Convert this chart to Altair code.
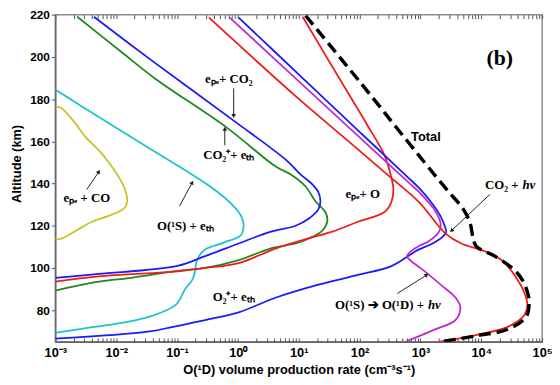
import math
import altair as alt
import pandas as pd

# ---------------- curve data (x: O(1D) production rate cm^-3 s^-1, y: altitude km) -------------
epeCO_x = [0.001, 0.00125, 0.00203, 0.00318, 0.00516, 0.00748, 0.0109, 0.0136, 0.0152, 0.0147,
           0.0131, 0.0075, 0.004, 0.0022, 0.0013, 0.001]
epeCO_y = [176.4, 175.8, 169.3, 161.9, 155.8, 150.2, 143.3, 138.1, 132.6, 129.8,
           127.9, 124.7, 121.9, 117.7, 114.0, 113.5]

o1s_x = [0.001, 0.0052, 0.0333, 0.102, 0.178, 0.376, 0.79, 1.15, 1.24, 1.12, 0.55, 0.29,
         0.23, 0.205, 0.2, 0.178, 0.137, 0.095, 0.0333, 0.0097, 0.0027, 0.001]
o1s_y = [184.5, 171.5, 157.1, 148.6, 144.2, 138.0, 130.2, 124.2, 120.0, 115.5, 111.8, 108.8,
         105.6, 102.0, 98.8, 94.4, 90.2, 82.5, 76.7, 73.5, 71.2, 69.2]

co2p_x = [0.00227, 0.0122, 0.0433, 0.658, 4.25, 7.4, 13.0, 18.8, 27.4, 29.5, 24.5, 14.5, 8.9, 3.5,
          1.03, 0.29, 0.102, 0.0177, 0.0052, 0.001]
co2p_y = [219.1, 202.3, 189.8, 166.5, 147.9, 144.3, 138.6, 131.6, 126.5, 122.3, 117.7, 113.9, 111.6,
          109.3, 103.7, 100.0, 98.6, 95.3, 93.5, 89.3]

epeco2_x = [0.0043, 0.0372, 0.853, 6.17, 10.8, 16.9, 21.1, 22.7, 21.1, 14.5, 8.9, 3.5, 1.03,
            0.29, 0.102, 0.0052, 0.001]
epeco2_y = [219.0, 198.6, 169.8, 151.2, 144.2, 139.5, 135.8, 131.6, 127.9, 123.3, 120.0, 117.2,
            111.6, 105.6, 101.0, 97.2, 95.3]

epeO_x = [11.6, 44.5, 136, 256, 333, 359, 333, 256, 94, 35.6, 14.5, 4.25, 1.03, 0.29, 0.102, 0.0052, 0.001]
epeO_y = [219.0, 190.7, 167.4, 153.5, 142.8, 137.2, 131.2, 126.5, 121.9, 117.2, 114.0, 109.3, 102.3,
          100.0, 98.4, 96.0, 93.5]

o2p_x = [1.03, 10.8, 80.7, 604, 946, 1480, 2070, 2495, 2640, 2280, 1580, 946, 785, 333, 94, 21.1,
         4.25, 1.03, 0.29, 0.085, 0.0333, 0.001]
o2p_y = [218.6, 190.8, 167.0, 143.3, 137.9, 131.4, 125.3, 120.1, 116.9, 114.6, 111.6, 108.8, 107.5,
         100.9, 96.7, 92.1, 86.0, 79.0, 75.3, 72.1, 69.8, 66.5]

cascade_x = [0.735, 10.8, 86.9, 604, 946, 1780, 2150, 2000, 1370, 946, 701, 604, 701, 1020, 2150,
             3760, 4530, 3760, 1660, 562]
cascade_y = [218.6, 187.6, 163.5, 141.1, 136.0, 126.6, 120.6, 116.9, 112.7, 110.4, 108.0, 105.6,
             103.3, 99.8, 92.1, 86.0, 81.4, 75.3, 70.7, 65.0]

co2hv_x = [0.336, 8.9, 50.6, 286, 946, 2590, 4700, 11500, 22500, 39400, 53100, 57100, 51200, 27100,
           8850, 3240, 2000]
co2hv_y = [218.6, 181.4, 162.8, 144.2, 131.2, 116.3, 111.6, 107.9, 103.3, 94.4, 87.0, 82.3, 77.7,
           72.1, 68.4, 66.0, 65.0]

total_x = [13.0, 109, 483, 2690, 5060, 6580, 7350, 8300, 16700, 35200, 48000, 58000, 61000, 55000,
           27500, 8000, 2150]
total_y = [219.5, 187.0, 163.7, 137.2, 127.9, 121.0, 114.0, 110.2, 105.6, 99.0, 94.0, 88.0, 83.5,
           77.0, 71.0, 67.8, 65.0]

series_names = ["epeCO", "o1s", "co2p", "epeco2", "epeO", "o2p", "cascade", "co2hv"]
series_x = [epeCO_x, o1s_x, co2p_x, epeco2_x, epeO_x, o2p_x, cascade_x, co2hv_x]
series_y = [epeCO_y, o1s_y, co2p_y, epeco2_y, epeO_y, o2p_y, cascade_y, co2hv_y]
series_colors = ["#c9c22a", "#1fc4c8", "#1f8a1f", "#1a1aff", "#f21b1b", "#1a1aff", "#c02ccc", "#f21b1b"]

# axis ticks
x_major = [1e-3, 1e-2, 1e-1, 1.0, 10.0, 100.0, 1e3, 1e4, 1e5]
x_major_labels = ["10⁻³", "10⁻²", "10⁻¹", "10⁰", "10¹", "10²", "10³", "10⁴", "10⁵"]
x_minor = [k * 10.0 ** d for d in range(-3, 5) for k in range(2, 10)]
y_ticks = [80, 100, 120, 140, 160, 180, 200, 220]

# annotations (text, x, y)
lab_center = [("eₚₑ+ CO₂", 0.71, 189.3), ("CO₂⁺+ eₜₕ", 0.71, 153.5), ("eₚₑ + CO", 0.0033, 133.0),
              ("O(¹S) + eₜₕ", 0.137, 120.0), ("eₚₑ+ O", 113, 134.9), ("O₂⁺+ eₜₕ", 0.853, 86.0)]
lab_right = [("O(¹S) ➔ O(¹D) +", 1230, 82.3), ("CO₂ +", 44000, 139.5)]
lab_italic = [("hv", 1230, 82.3), ("hv", 44000, 139.5)]
lab_sans = [("Total", 1230, 161.9)]
lab_big = [("(b)", 20100, 199.5)]
arrows = [(0.853, 185.1, 0.853, 172.0), (0.61, 158.1, 0.61, 166.0), (0.0033, 137.2, 0.0052, 145.6),
          (0.11, 129.3, 0.178, 140.5), (416, 87.9, 1270, 96.7), (13900, 134.9, 3240, 117.7)]

# ---------------- chart ----------------
W, H = 494, 332
XDOM, YDOM = [1e-3, 1e5], [65, 220]
xs = alt.Scale(type="log", domain=XDOM, nice=False)
ys = alt.Scale(domain=YDOM, nice=False, zero=False)

rows = []
for n, xv, yv in zip(series_names, series_x, series_y):
    for i, (a, b) in enumerate(zip(xv, yv)):
        rows.append({"s": n, "x": a, "y": b, "i": i})
df = pd.DataFrame(rows)
tdf = pd.DataFrame({"x": total_x, "y": total_y, "i": range(len(total_x))})

label_expr = "[" + ",".join("'%s'" % t for t in x_major_labels) + "][round(log(datum.value)/LN10)+3]"

lines = alt.Chart(df).mark_line(strokeWidth=1.8, clip=True, interpolate="catmull-rom").encode(
    x=alt.X("x:Q", scale=xs, axis=alt.Axis(
        orient="bottom", values=x_major, labelExpr=label_expr, ticks=False, grid=False,
        domainColor="#666666", domainWidth=1.5, labelFlush=False, labelPadding=5,
        labelFont="Liberation Sans", labelFontWeight="bold", labelFontSize=13, labelColor="black",
        title="O(¹D)  volume production rate (cm⁻³s⁻¹)", titleFont="Liberation Sans",
        titleFontWeight="bold", titleFontSize=13, titleColor="black", titlePadding=4)),
    y=alt.Y("y:Q", scale=ys, axis=alt.Axis(
        orient="left", values=y_ticks, tickSize=4, tickColor="#555555", domainColor="#666666",
        domainWidth=1.5, grid=False, labelPadding=2, labelFont="Liberation Sans",
        labelFontWeight="bold", labelFontSize=12, labelColor="black", title="Altitude (km)",
        titleFont="Liberation Sans", titleFontWeight="bold", titleFontSize=13, titleColor="black",
        titleX=-32, titleY=151)),
    color=alt.Color("s:N", scale=alt.Scale(domain=series_names, range=series_colors), legend=None),
    detail="s:N",
    order="i:Q",
)

total = alt.Chart(tdf).mark_line(color="black", strokeWidth=3.5, strokeDash=[12, 6], clip=True,
                                 interpolate="catmull-rom").encode(
    x=alt.X("x:Q", scale=xs, axis=None),
    y=alt.Y("y:Q", scale=ys, axis=None),
    order="i:Q",
)

tickdf = pd.DataFrame({"x": x_major + x_minor})


def tick_layer(orient):
    return alt.Chart(tickdf).mark_point(opacity=0).encode(
        x=alt.X("x:Q", scale=xs, axis=alt.Axis(
            orient=orient, values=x_major + x_minor, labels=False, domain=False, grid=False,
            ticks=True, tickSize=4, offset=-4, tickColor="#555555", tickWidth=1, title=None)),
    )


def text_layer(items, **mark):
    d = pd.DataFrame(items, columns=["t", "x", "y"])
    return alt.Chart(d).mark_text(baseline="middle", color="black", **mark).encode(
        x=alt.X("x:Q", scale=xs, axis=None),
        y=alt.Y("y:Q", scale=ys, axis=None),
        text="t:N",
    )


ppd = W / (math.log10(XDOM[1]) - math.log10(XDOM[0]))
ppk = H / (YDOM[1] - YDOM[0])
arows = []
for (x1, y1, x2, y2) in arrows:
    dx = (math.log10(x2) - math.log10(x1)) * ppd
    dy = -(y2 - y1) * ppk
    ang = math.degrees(math.atan2(dx, -dy)) % 360
    arows.append({"x1": x1, "y1": y1, "x2": x2, "y2": y2, "ang": ang})
adf = pd.DataFrame(arows)

shafts = alt.Chart(adf).mark_rule(color="#222222", strokeWidth=1).encode(
    x=alt.X("x1:Q", scale=xs, axis=None), x2="x2:Q",
    y=alt.Y("y1:Q", scale=ys, axis=None), y2="y2:Q",
)
heads = alt.Chart(adf).mark_point(shape="triangle-up", filled=True, size=22, color="#222222", opacity=1).encode(
    x=alt.X("x2:Q", scale=xs, axis=None),
    y=alt.Y("y2:Q", scale=ys, axis=None),
    angle=alt.Angle("ang:Q", scale=None),
)

serif = "Liberation Serif"
texts = [
    text_layer(lab_center, font=serif, fontWeight="bold", fontSize=13, align="center"),
    text_layer(lab_right, font=serif, fontWeight="bold", fontSize=13, align="right", dx=-2),
    text_layer(lab_italic, font=serif, fontWeight="bold", fontStyle="italic", fontSize=13, align="left", dx=2),
    text_layer(lab_sans, font="Liberation Sans", fontWeight="bold", fontSize=13, align="center"),
    text_layer(lab_big, font=serif, fontWeight="bold", fontSize=22, align="center"),
]

chart = alt.layer(
    lines, total, tick_layer("bottom"), tick_layer("top"), shafts, heads, *texts
).resolve_axis(x="independent", y="independent").properties(
    width=W, height=H,
    autosize=alt.AutoSizeParams(type="none"),
    padding={"left": 48, "top": 4, "right": 10, "bottom": 40},
).configure_view(stroke="#8c8c8c", strokeWidth=1.5)

chart.save("out.html", embed_options={"renderer": "svg", "actions": False})
